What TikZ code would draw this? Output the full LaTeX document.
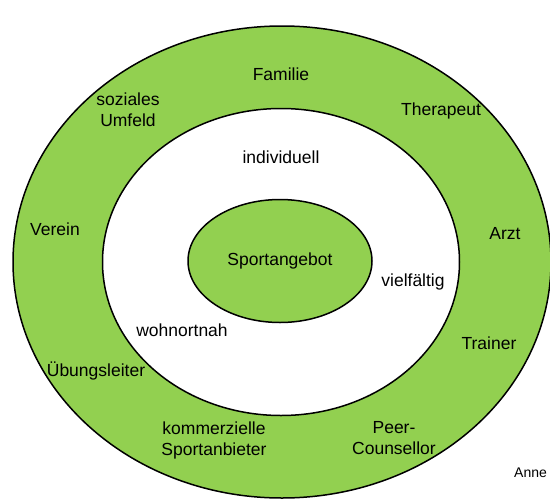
\documentclass[tikz,border=0pt]{standalone}
\usepackage{fontspec}
\setmainfont{Liberation Sans}
\usetikzlibrary{positioning,shapes.geometric}
\definecolor{ringgreen}{RGB}{146,208,80}
\tikzstyle{ring}=[ellipse, draw=black, line width=1.5pt, inner sep=0pt, outer sep=0pt]
\tikzstyle{greenring}=[ring, fill=ringgreen]
\tikzstyle{whitering}=[ring, fill=white]
\tikzstyle{lbl}=[inner sep=0pt, align=center, font=\fontsize{17.5}{21}\selectfont]
\tikzstyle{note}=[inner sep=0pt, anchor=west, font=\fontsize{14}{16}\selectfont]

\begin{document}
\begin{tikzpicture}[x=1pt, y=-1pt]
\useasboundingbox (0,0) rectangle (550,499);

	\node (umfeld) [greenring, minimum width=538pt, minimum height=472pt] at (282,262) {};
	\node (angebot) [whitering, minimum width=357pt, minimum height=307pt] at (281,262) {};
	\node (sport) [greenring, minimum width=184pt, minimum height=123pt] at (280,261) {};

	\node (sportt) [lbl] at (sport.center) {Sportangebot};
%  inner ring
	\node (indiv) [lbl] at (281,157) {individuell};
	\node (vielf) [lbl] at (413,282) {vielf\"altig};
	\node (wohn) [lbl] at (182,330) {wohnortnah};
%  outer ring
	\node (fam) [lbl] at (281,74) {Familie};
	\node (sozial) [lbl] at (128,110) {soziales\\Umfeld};
	\node (thera) [lbl] at (441,111) {Therapeut};
	\node (verein) [lbl] at (55,229) {Verein};
	\node (arzt) [lbl] at (505,234) {Arzt};
	\node (trainer) [lbl] at (489,343) {Trainer};
	\node (uebung) [lbl] at (96,371) {\"Ubungsleiter};
	\node (komm) [lbl] at (214,440) {kommerzielle\\Sportanbieter};
	\node (peer) [lbl] at (394,438) {Peer-\\Counsellor};

	\node (anne) [note] at (514,473) {Anne};

\end{tikzpicture}
\end{document}
